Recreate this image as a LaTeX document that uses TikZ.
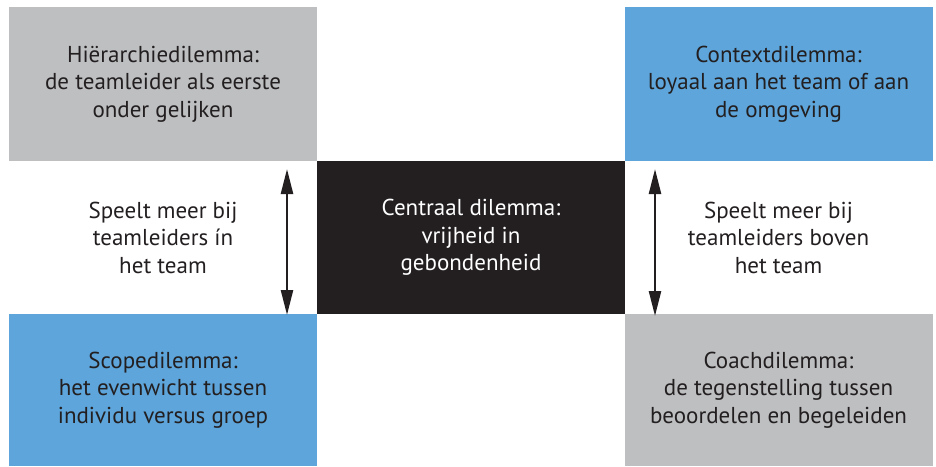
\documentclass[tikz,border=0pt]{standalone}
\usepackage{fontspec}
\setmainfont{PT Sans}
\usetikzlibrary{arrows.meta}
\definecolor{grijs}{RGB}{190,191,193}
\definecolor{blauw}{RGB}{93,165,218}
\definecolor{zwart}{RGB}{35,31,32}
\begin{document}
\begin{tikzpicture}[x=1pt, y=-1pt, >={Triangle[length=25pt,width=12pt]},
  vak/.style={inner sep=0pt, minimum width=308pt, align=center, text=zwart,
    font=\fontsize{23}{27.5}\selectfont},
  tekst/.style={align=center, text=zwart, font=\fontsize{23}{27.5}\selectfont}]
\useasboundingbox (0,0) rectangle (936,466);

\node[vak, fill=grijs, minimum height=154pt] (hier) at (163,84) {Hiërarchiedilemma:\\de teamleider als eerste\\onder gelijken};
\node[vak, fill=blauw, minimum height=154pt] (context) at (778.5,84) {Contextdilemma:\\loyaal aan het team of aan\\de omgeving};
\node[vak, fill=zwart, text=white, minimum height=153pt] (centraal) at (471,237.5) {Centraal dilemma:\\vrijheid in\\gebondenheid};
\node[vak, fill=blauw, minimum height=152pt] (scope) at (163,390) {Scopedilemma:\\het evenwicht tussen\\individu versus groep};
\node[vak, fill=grijs, minimum height=152pt] (coach) at (778.5,390) {Coachdilemma:\\de tegenstelling tussen\\beoordelen en begeleiden};

\node[tekst] (in) at (163,237.5) {Speelt meer bij\\teamleiders ín\\het team};
\node[tekst] (boven) at (778.5,237.5) {Speelt meer bij\\teamleiders boven\\het team};

\coordinate (l1) at (287,169);
\coordinate (l2) at (287,315);
\coordinate (r1) at (655,169);
\coordinate (r2) at (655,316);
\draw[<->, line width=2.4pt, zwart] (l1) -- (l2);
\draw[<->, line width=2.4pt, zwart] (r1) -- (r2);
\end{tikzpicture}
\end{document}
